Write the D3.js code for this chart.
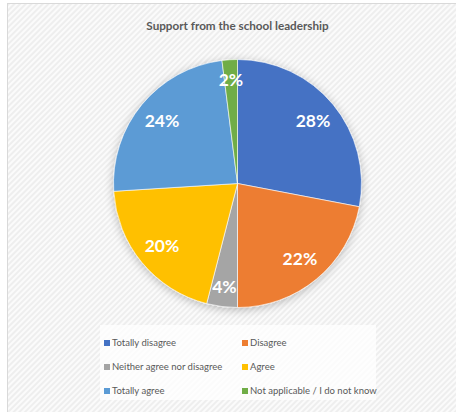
<!DOCTYPE html>
<html><head><meta charset="utf-8">
<script src="https://cdn.jsdelivr.net/npm/d3@7"></script>
<style>html,body{margin:0;padding:0;background:#fff;}svg{display:block;}</style>
</head><body><svg id="c" width="456" height="412"></svg>
<script>
const title = "Support from the school leadership";
const categories = ["Totally disagree","Disagree","Neither agree nor disagree","Agree","Totally agree","Not applicable / I do not know"];
const values = [28,22,4,20,24,2];
const colors = ["#4472c4","#ed7d31","#a5a5a5","#ffc000","#5b9bd5","#70ad47"];

const svg = d3.select("#c");
const defs = svg.append("defs");
const pat = defs.append("pattern").attr("id","stripes").attr("patternUnits","userSpaceOnUse")
  .attr("width",4).attr("height",4).attr("patternTransform","rotate(45)");
pat.append("rect").attr("width",4).attr("height",4).attr("fill","#fbfbfb");
pat.append("rect").attr("width",2).attr("height",4).attr("fill","#eeeeee");
const f = defs.append("filter").attr("id","sh").attr("x","-30%").attr("y","-30%").attr("width","160%").attr("height","160%");
f.append("feGaussianBlur").attr("in","SourceAlpha").attr("stdDeviation",5).attr("result","b");
f.append("feOffset").attr("in","b").attr("dx",0).attr("dy",2).attr("result","o");
f.append("feComponentTransfer").attr("in","o").attr("result","o2").append("feFuncA").attr("type","linear").attr("slope",0.25);
const fm = f.append("feMerge"); fm.append("feMergeNode").attr("in","o2"); fm.append("feMergeNode").attr("in","SourceGraphic");

svg.append("rect").attr("x",0).attr("y",0).attr("width",456).attr("height",412).attr("fill","#fff");
svg.append("rect").attr("x",7.5).attr("y",3.5).attr("width",460).attr("height",420)
  .attr("fill","url(#stripes)").attr("stroke","#d9d9d9").attr("stroke-width",1);

svg.append("text").attr("x",237.5).attr("y",30).attr("text-anchor","middle")
  .attr("font-family","Lato, 'Open Sans', sans-serif").attr("font-weight","bold").attr("font-size",11.7)
  .attr("fill","#595959").text(title);

const cx = 237.5, cy = 183.5, r = 124;
const pie = d3.pie().sort(null).value(d=>d)(values);
const arc = d3.arc().innerRadius(0).outerRadius(r);
const g = svg.append("g").attr("transform",`translate(${cx},${cy})`);
const pg = g.append("g").attr("filter","url(#sh)");
pg.selectAll("path").data(pie).join("path").attr("d",arc)
  .attr("fill",(d,i)=>colors[i]).attr("stroke","#fff").attr("stroke-width",0.6);

const total = d3.sum(values);
g.selectAll("text.lbl").data(pie).join("text").attr("class","lbl")
  .attr("transform",d=>{
    const k = d.value < 5 ? 0.84 : 0.79;
    const a = (d.startAngle+d.endAngle)/2;
    return `translate(${Math.sin(a)*r*k},${-Math.cos(a)*r*k})`;
  })
  .attr("text-anchor","middle").attr("dy","0.36em")
  .attr("font-family","Lato, 'Open Sans', sans-serif").attr("font-weight","bold").attr("font-size",17.5)
  .attr("fill","#fff").text(d=>Math.round(d.value/total*100)+"%");

svg.append("rect").attr("x",100).attr("y",325).attr("width",276).attr("height",75).attr("fill","#fff").attr("opacity",0.75);
const colX = [104, 242], rowY = [343, 367, 391];
const lg = svg.selectAll("g.leg").data(categories).join("g").attr("class","leg")
  .attr("transform",(d,i)=>`translate(${colX[i%2]},${rowY[Math.floor(i/2)]})`);
lg.append("rect").attr("x",0).attr("y",-3).attr("width",6).attr("height",6).attr("fill",(d,i)=>colors[i]);
lg.append("text").attr("x",8).attr("y",0).attr("dy","0.35em")
  .attr("font-family","Lato, 'Open Sans', sans-serif").attr("font-size",9.5).attr("fill","#595959").text(d=>d);
</script></body></html>
